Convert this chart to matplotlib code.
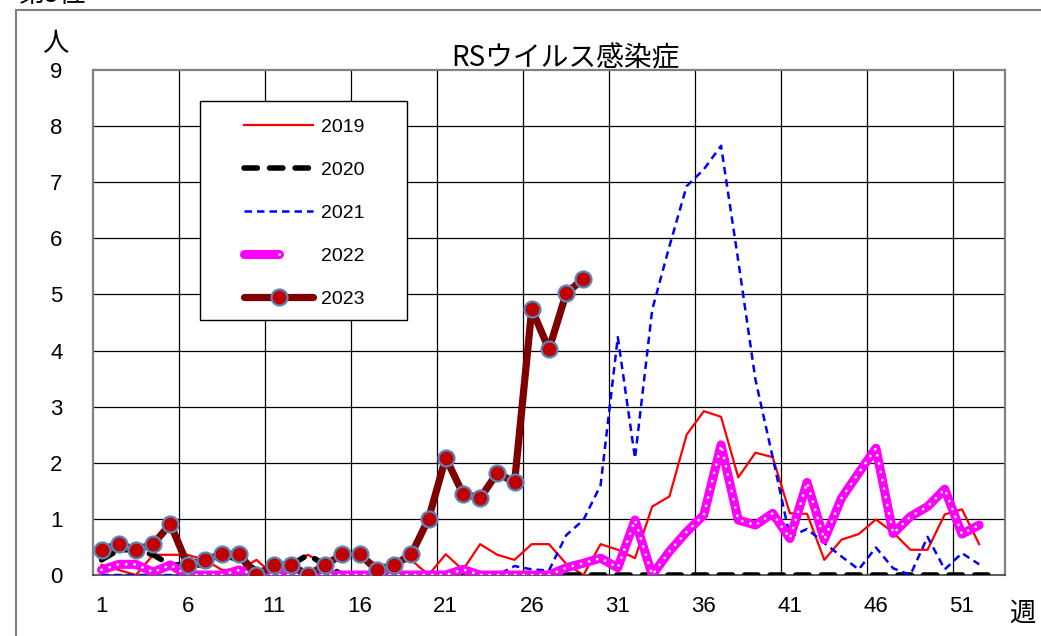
import matplotlib
matplotlib.use("Agg")
import matplotlib.pyplot as plt
from matplotlib.lines import Line2D
from matplotlib.patches import Rectangle
from matplotlib.legend_handler import HandlerTuple

plt.rcParams['font.family'] = ['Liberation Sans', 'Noto Sans CJK JP', 'DejaVu Sans']
JP = ['Noto Sans CJK JP', 'DejaVu Sans']

# weekly values (per sentinel)
y2019 = [0.18, 0.09, 0.0, 0.36, 0.36, 0.36, 0.27, 0.09, 0.09, 0.27,
         0.0, 0.18, 0.36, 0.18, 0.36, 0.38, 0.18, 0.18, 0.27, 0.0,
         0.37, 0.09, 0.55, 0.36, 0.27, 0.55, 0.55, 0.2, 0.0, 0.55,
         0.45, 0.3, 1.22, 1.4, 2.5, 2.92, 2.82, 1.74, 2.18, 2.1,
         1.1, 1.09, 0.27, 0.63, 0.73, 0.99, 0.76, 0.45, 0.45, 1.08,
         1.17, 0.55]
y2020 = [0.27, 0.45, 0.45, 0.36, 0.18, 0.18, 0.18, 0.36, 0.27, 0.09,
         0.18, 0.18, 0.36, 0.18] + [0.0] * 39
y2021 = [0.0] * 24 + [0.16, 0.1, 0.08, 0.71, 0.98, 1.6,
                      4.24, 2.08, 4.73, 5.86, 6.93, 7.23, 7.65, 5.6, 3.48, 2.1,
                      0.68, 0.82, 0.57, 0.33, 0.1, 0.49, 0.12, 0.0, 0.68, 0.1,
                      0.39, 0.19]
y2022 = [0.09, 0.19, 0.19, 0.05, 0.18, 0.0, 0.0, 0.0, 0.09, 0.0,
         0.0, 0.0, 0.0, 0.0, 0.0, 0.0, 0.0, 0.0, 0.0, 0.0,
         0.0, 0.1, 0.0, 0.0, 0.0, 0.0, 0.0, 0.13, 0.21, 0.3,
         0.13, 0.98, 0.0, 0.42, 0.77, 1.07, 2.32, 0.98, 0.89, 1.1,
         0.65, 1.65, 0.63, 1.37, 1.82, 2.26, 0.74, 1.04, 1.22, 1.53,
         0.73, 0.89]
y2023 = [0.45, 0.55, 0.45, 0.55, 0.91, 0.18, 0.27, 0.37, 0.37, 0.0,
         0.18, 0.18, 0.0, 0.18, 0.37, 0.37, 0.09, 0.18, 0.37, 1.0,
         2.09, 1.45, 1.37, 1.82, 1.65, 4.74, 4.02, 5.02, 5.28]

xlabels = [1, 6, 11, 16, 21, 26, 31, 36, 41, 46, 51]

def weeks(v):
    return list(range(1, len(v) + 1))

fig = plt.figure(figsize=(10.41, 6.36), dpi=100)
ax = fig.add_axes([0.0893, 0.0959, 0.8761, 0.794])

# grid (Excel style, between categories)
for gx in range(5, 51, 5):
    ax.axvline(gx + 0.5, color='black', lw=0.9, zorder=1)
for gy in range(1, 9):
    ax.axhline(gy, color='black', lw=0.9, zorder=1)

l19, = ax.plot(weeks(y2019), y2019, color='#FF0000', lw=1.6, zorder=3)
l20, = ax.plot(weeks(y2020), y2020, color='black', lw=4.0,
               dashes=(2.4, 2.2), dash_capstyle='round', zorder=4)
l21, = ax.plot(weeks(y2021), y2021, color='#0000FF', lw=1.8,
               dashes=(3.0, 2.0), zorder=5)
l22a, = ax.plot(weeks(y2022), y2022, color='#FF00FF', lw=6.5,
                solid_joinstyle='round', solid_capstyle='round', zorder=6)
l22b, = ax.plot(weeks(y2022), y2022, color='white', lw=2.0,
                dashes=(0.05, 3.0), dash_capstyle='round', zorder=7)
l23, = ax.plot(weeks(y2023), y2023, color='#800000', lw=5.2,
               marker='o', ms=11.5, mfc='#C00000', mec='#5B86B8', mew=1.6,
               solid_joinstyle='round', solid_capstyle='round', zorder=8)

ax.set_xlim(0.5, 53.5)
ax.set_ylim(0, 9)
ax.set_xticks(xlabels)
ax.set_xticklabels([str(v) for v in xlabels])
ax.set_yticks(range(0, 10))
ax.tick_params(axis='x', length=0, pad=15, labelsize=16)
ax.tick_params(axis='y', length=0, pad=22, labelsize=16)
for s in ['left', 'top', 'right']:
    ax.spines[s].set_color('#808080')
    ax.spines[s].set_linewidth(1.6)
ax.spines['bottom'].set_color('#404040')
ax.spines['bottom'].set_linewidth(1.2)

# legend with a hand drawn frame
frame = Rectangle((0.1175, 0.504), 0.227, 0.4355, transform=ax.transAxes,
                  facecolor='white', edgecolor='black', lw=1.0, zorder=20)
ax.add_patch(frame)
h23 = Line2D([], [], color='#800000', lw=5.2, marker='o', ms=11.5,
             mfc='#C00000', mec='#5B86B8', mew=1.6, solid_capstyle='round')
leg = ax.legend([l19, l20, l21, (l22a, l22b), h23],
                ['2019', '2020', '2021', '2022', '2023'],
                handler_map={tuple: HandlerTuple(ndivide=None)},
                loc='upper left', bbox_to_anchor=(0.1657, 0.905),
                frameon=False, fontsize=14, handlelength=3.56,
                handletextpad=0.4, labelspacing=1.31, borderpad=0,
                borderaxespad=0)
leg.set_zorder(21)

fig.text(565 / 1041, 1 - 58 / 636, 'RSウイルス感染症', ha='center',
         va='center', fontsize=20, family=JP)
fig.text(55 / 1041, 1 - 44 / 636, '人', ha='center', va='center',
         fontsize=19, family=JP)
fig.text(1022 / 1041, 1 - 613 / 636, '週', ha='center', va='center',
         fontsize=19, family=JP)
fig.text(18 / 1041, 1 - 8 / 636, '第5位', ha='left', va='bottom',
         fontsize=19, family=JP)

# outer frame of the panel
fig.add_artist(Line2D([16 / 1041, 1.0], [1 - 10 / 636, 1 - 10 / 636],
                      transform=fig.transFigure, color='#808080', lw=1.5))
fig.add_artist(Line2D([16 / 1041, 16 / 1041], [0.0, 1 - 10 / 636],
                      transform=fig.transFigure, color='#808080', lw=1.5))

fig.savefig('out.png', dpi=100)
